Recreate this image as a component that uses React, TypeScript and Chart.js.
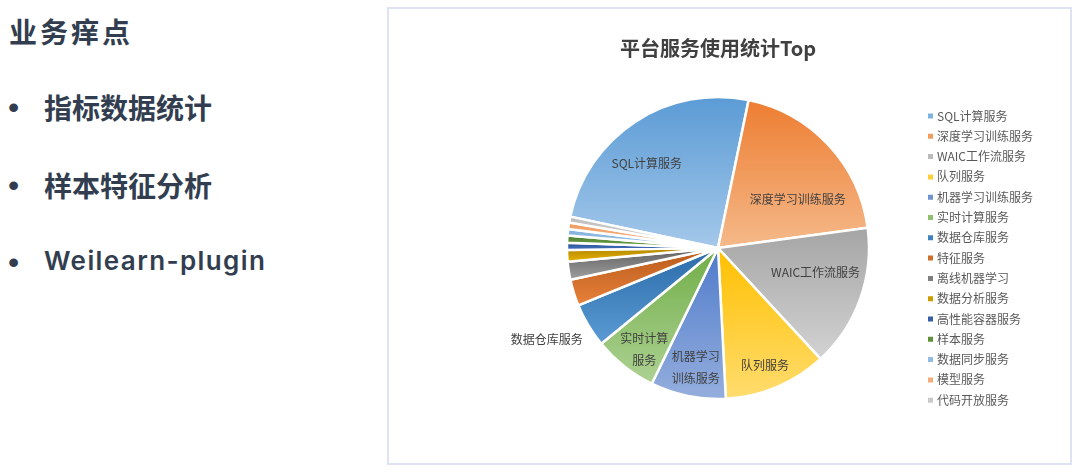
import React, { useEffect, useRef } from "react";
import { Chart, registerables } from "chart.js";

Chart.register(...registerables);

// ---------- data ----------
const PAGE_TITLE = "业务痒点";
const BULLETS = ["指标数据统计", "样本特征分析", "Weilearn-plugin"];
const CHART_TITLE = "平台服务使用统计Top";
const CATEGORIES = [
  "SQL计算服务",
  "深度学习训练服务",
  "WAIC工作流服务",
  "队列服务",
  "机器学习训练服务",
  "实时计算服务",
  "数据仓库服务",
  "特征服务",
  "离线机器学习",
  "数据分析服务",
  "高性能容器服务",
  "样本服务",
  "数据同步服务",
  "模型服务",
  "代码开放服务",
];
const SHARES = [24.9, 19.6, 15.25, 11.05, 8.05, 6.83, 4.72, 2.83, 1.94, 1.22, 0.78, 0.75, 0.69, 0.69, 0.64];

// ---------- styles ----------
const TOP_COLORS = [
  "#5B9BD5", "#ED7D31", "#A5A5A5", "#FFC000", "#4F7BCB", "#70AD47", "#2A6BA8",
  "#B85A1C", "#5E5E5E", "#B08600", "#2B4F8F", "#4E7A32", "#7FB0DE", "#F19A5E", "#BDBDBD",
];
const BOTTOM_COLORS = [
  "#A4C8EA", "#F5B98A", "#D2D2D2", "#FFDC6E", "#94AEDD", "#ADD293", "#5B9BD5",
  "#E8813A", "#A0A0A0", "#E8B100", "#4472C4", "#6FAA47", "#A9CBEA", "#F7BE97", "#D5D5D5",
];
const LEGEND_COLORS = [
  "#7FB2E0", "#F19B5E", "#BBBBBB", "#FFCD37", "#6F92D4", "#8FC06D", "#3F82BF",
  "#D06D2B", "#7F7F7F", "#CC9C00", "#375FA8", "#5F913D", "#94BDE4", "#F4AC7A", "#C9C9C9",
];
const FONT = '"Noto Sans CJK SC", "Noto Sans", sans-serif';
const RADIUS = 151;
const ROTATION = 282;

// label placement relative to each slice (radius fraction, angular nudge in degrees, optional line split)
const LABEL_PLACEMENT: Record<number, { r: number; turn: number; split?: number }> = {
  0: { r: 0.734, turn: -6.8 },
  1: { r: 0.62, turn: 11.5 },
  2: { r: 0.667, turn: -5.5 },
  3: { r: 0.835, turn: 1 },
  4: { r: 0.805, turn: -1, split: 4 },
  5: { r: 0.83, turn: -2.3, split: 4 },
  6: { r: 1.287, turn: 2.7 },
};

function angleIn(a: number, s: number, e: number) {
  let t = a;
  while (t < s) t += Math.PI * 2;
  while (t >= s + Math.PI * 2) t -= Math.PI * 2;
  return t <= e;
}

function sliceFill(c: any) {
  const i = c.dataIndex;
  const chart = c.chart;
  const area = chart.chartArea;
  if (c.type !== "data" || !area) return LEGEND_COLORS[i];
  const cx = (area.left + area.right) / 2;
  const cy = (area.top + area.bottom) / 2;
  const total = SHARES.reduce((a, b) => a + b, 0);
  let s = -Math.PI / 2 + (ROTATION * Math.PI) / 180;
  for (let k = 0; k < i; k++) s += (Math.PI * 2 * SHARES[k]) / total;
  const e = s + (Math.PI * 2 * SHARES[i]) / total;
  const ys = [cy, cy + RADIUS * Math.sin(s), cy + RADIUS * Math.sin(e)];
  let y0 = Math.min(...ys);
  let y1 = Math.max(...ys);
  if (angleIn(Math.PI / 2, s, e)) y1 = cy + RADIUS;
  if (angleIn(-Math.PI / 2, s, e)) y0 = cy - RADIUS;
  if (y1 - y0 < 1) y1 = y0 + 1;
  const g = chart.ctx.createLinearGradient(0, y0, 0, y1);
  g.addColorStop(0, TOP_COLORS[i]);
  g.addColorStop(1, BOTTOM_COLORS[i]);
  return g;
}

const sliceLabels = {
  id: "sliceLabels",
  afterDatasetsDraw(chart: any) {
    const meta = chart.getDatasetMeta(0);
    const ctx = chart.ctx;
    ctx.save();
    ctx.font = `12px ${FONT}`;
    ctx.fillStyle = "#404040";
    ctx.textAlign = "center";
    ctx.textBaseline = "middle";
    meta.data.forEach((arc: any, i: number) => {
      const p = LABEL_PLACEMENT[i];
      if (!p) return;
      const { x, y, startAngle, endAngle, outerRadius } = arc.getProps(
        ["x", "y", "startAngle", "endAngle", "outerRadius"],
        true
      );
      const a = (startAngle + endAngle) / 2 + (p.turn * Math.PI) / 180;
      const d = outerRadius * p.r;
      const lx = x + d * Math.cos(a);
      const ly = y + d * Math.sin(a);
      const text = CATEGORIES[i];
      const lines = p.split ? [text.slice(0, p.split), text.slice(p.split)] : [text];
      const lh = 21.6;
      lines.forEach((t, k) => ctx.fillText(t, lx, ly + (k - (lines.length - 1) / 2) * lh));
    });
    ctx.restore();
  },
};

function PieChart() {
  const ref = useRef<HTMLCanvasElement | null>(null);
  useEffect(() => {
    if (!ref.current) return;
    const chart = new Chart(ref.current, {
      type: "pie",
      data: {
        labels: CATEGORIES,
        datasets: [
          {
            data: SHARES,
            backgroundColor: sliceFill as any,
            borderColor: "#ffffff",
            borderWidth: 2.5,
            hoverOffset: 0,
            clip: false as any,
          },
        ],
      },
      options: {
        responsive: false,
        animation: false,
        devicePixelRatio: 1,
        events: [],
        radius: RADIUS,
        rotation: ROTATION,
        layout: { padding: { left: 124.3, right: 26, top: 0, bottom: 45 } },
        plugins: {
          tooltip: { enabled: false },
          title: {
            display: true,
            text: CHART_TITLE,
            fullSize: false,
            color: "#404040",
            font: { family: FONT, size: 20, weight: "bold" },
            padding: { top: 26, bottom: 18 },
          },
          legend: {
            display: true,
            position: "right",
            align: "center",
            fullSize: false,
            title: { display: true, text: "", padding: 2.9, font: { size: 12 } },
            labels: {
              usePointStyle: true,
              boxWidth: 1,
              boxHeight: 5,
              padding: 8.3,
              color: "#595959",
              font: { family: FONT, size: 12 },
              generateLabels: (ch: any) => {
                const base = (Chart as any).overrides.doughnut.plugins.legend.labels.generateLabels(ch);
                return base.map((it: any, i: number) => ({
                  ...it,
                  fillStyle: LEGEND_COLORS[i],
                  strokeStyle: LEGEND_COLORS[i],
                  lineWidth: 0,
                  pointStyle: "rect",
                }));
              },
            },
          },
        },
      } as any,
      plugins: [sliceLabels],
    });
    return () => chart.destroy();
  }, []);
  return (
    <canvas
      ref={ref}
      width={679}
      height={453}
      style={{ position: "absolute", left: 390, top: 10, width: 679, height: 453, display: "block" }}
    />
  );
}

export default function App() {
  const textColor = "#323E4F";
  const cjk: React.CSSProperties = {
    position: "absolute",
    fontFamily: FONT,
    fontWeight: 700,
    fontSize: 28,
    lineHeight: "40px",
    color: textColor,
    whiteSpace: "nowrap",
  };
  const bulletTops = [87.4, 165.4, 242.4];
  return (
    <div style={{ position: "absolute", left: 0, top: 0, width: 1080, height: 473, background: "#fff", overflow: "hidden" }}>
      <div style={{ ...cjk, left: 9, top: 11.4, letterSpacing: 3 }}>{PAGE_TITLE}</div>
      {BULLETS.map((b, i) => (
        <React.Fragment key={b}>
          <div
            style={{
              position: "absolute",
              left: 8,
              top: bulletTops[i],
              lineHeight: "40px",
              fontSize: 32,
              fontFamily: '"Liberation Sans", sans-serif',
              color: textColor,
            }}
          >
            •
          </div>
          {i < 2 ? (
            <div style={{ ...cjk, left: 44, top: bulletTops[i] }}>{b}</div>
          ) : (
            <div
              style={{
                ...cjk,
                fontFamily: 'Inter, "Noto Sans CJK SC", sans-serif',
                fontWeight: 600,
                fontSize: 26,
                letterSpacing: 1.4,
                left: 44,
                top: 240.5,
              }}
            >
              {b}
            </div>
          )}
        </React.Fragment>
      ))}
      <div
        style={{
          position: "absolute",
          left: 387,
          top: 7,
          width: 685,
          height: 458,
          boxSizing: "border-box",
          border: "2px solid #DDE3F1",
        }}
      />
      <PieChart />
    </div>
  );
}
